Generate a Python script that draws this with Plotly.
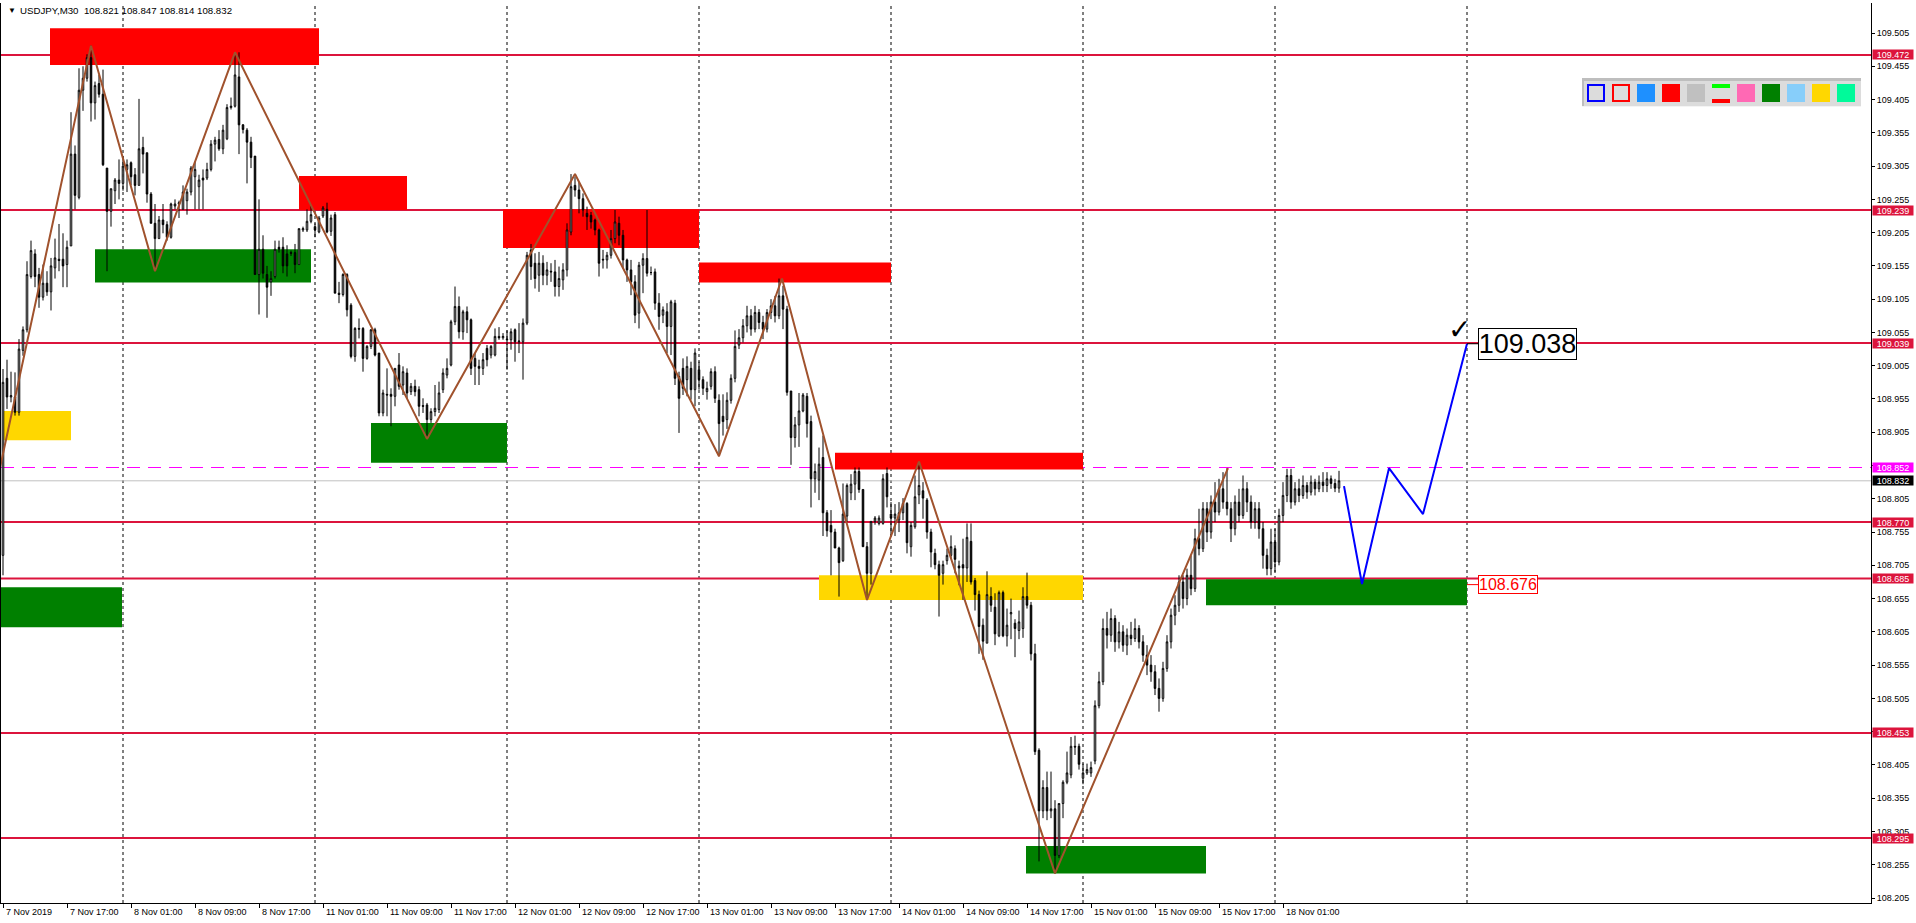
import plotly.graph_objects as go

# ---------------- data (USDJPY M30, O/H/L/C per bar) ----------------
nov07 = [
    (108.720, 109.000, 108.690, 108.980), (108.986, 109.014, 108.940, 108.958), (108.958, 108.996, 108.950, 108.960),
    (108.958, 108.995, 108.930, 108.935), (108.935, 109.045, 108.930, 109.030), (109.028, 109.064, 109.020, 109.059),
    (109.059, 109.162, 109.055, 109.142), (109.139, 109.193, 109.136, 109.178), (109.173, 109.180, 109.123, 109.139),
    (109.142, 109.152, 109.092, 109.108), (109.108, 109.157, 109.103, 109.129), (109.129, 109.147, 109.110, 109.116),
    (109.116, 109.167, 109.088, 109.155), (109.152, 109.196, 109.136, 109.167), (109.165, 109.218, 109.147, 109.163),
    (109.165, 109.204, 109.123, 109.155), (109.157, 109.193, 109.123, 109.183), (109.185, 109.386, 109.185, 109.323),
    (109.323, 109.336, 109.240, 109.261), (109.258, 109.452, 109.255, 109.419), (109.419, 109.455, 109.388, 109.437),
    (109.437, 109.473, 109.432, 109.468), (109.468, 109.486, 109.372, 109.400), (109.400, 109.432, 109.375, 109.426),
    (109.429, 109.442, 109.408, 109.413), (109.413, 109.450, 109.305, 109.307), (109.302, 109.302, 109.147, 109.237),
    (109.237, 109.271, 109.214, 109.271), (109.268, 109.287, 109.248, 109.284), (109.284, 109.315, 109.255, 109.279),
]
nov08 = [
    (109.279, 109.320, 109.268, 109.305), (109.300, 109.315, 109.266, 109.307), (109.310, 109.312, 109.276, 109.289),
    (109.292, 109.302, 109.261, 109.276), (109.276, 109.406, 109.276, 109.331), (109.333, 109.349, 109.294, 109.323),
    (109.325, 109.325, 109.250, 109.263), (109.263, 109.266, 109.219, 109.219), (109.219, 109.248, 109.147, 109.196),
    (109.196, 109.230, 109.196, 109.224), (109.224, 109.248, 109.204, 109.217), (109.217, 109.222, 109.193, 109.198),
    (109.198, 109.250, 109.196, 109.248), (109.245, 109.255, 109.240, 109.248), (109.248, 109.253, 109.227, 109.250),
    (109.240, 109.276, 109.240, 109.266), (109.253, 109.271, 109.232, 109.266), (109.266, 109.305, 109.261, 109.302),
    (109.289, 109.312, 109.240, 109.300), (109.274, 109.292, 109.240, 109.284), (109.287, 109.300, 109.240, 109.284),
    (109.287, 109.310, 109.284, 109.300), (109.300, 109.344, 109.297, 109.338), (109.338, 109.349, 109.312, 109.344),
    (109.345, 109.359, 109.328, 109.331), (109.331, 109.367, 109.323, 109.359), (109.346, 109.398, 109.344, 109.393),
    (109.393, 109.408, 109.390, 109.395), (109.395, 109.476, 109.393, 109.442), (109.439, 109.476, 109.323, 109.367),
    (109.367, 109.368, 109.354, 109.360), (109.359, 109.362, 109.279, 109.341), (109.341, 109.349, 109.302, 109.318),
    (109.320, 109.320, 109.142, 109.142), (109.142, 109.255, 109.082, 109.180), (109.180, 109.201, 109.136, 109.144),
    (109.142, 109.155, 109.077, 109.123), (109.131, 109.147, 109.110, 109.136), (109.139, 109.193, 109.136, 109.180),
    (109.183, 109.193, 109.175, 109.180), (109.183, 109.198, 109.144, 109.155), (109.173, 109.186, 109.139, 109.155),
    (109.175, 109.178, 109.170, 109.174), (109.175, 109.188, 109.144, 109.157), (109.157, 109.211, 109.157, 109.211),
    (109.209, 109.214, 109.206, 109.211), (109.209, 109.240, 109.206, 109.222), (109.222, 109.245, 109.219, 109.232),
]
nov11 = [
    (109.214, 109.219, 109.198, 109.209), (109.206, 109.230, 109.204, 109.227), (109.230, 109.245, 109.227, 109.242),
    (109.240, 109.250, 109.204, 109.206), (109.207, 109.232, 109.200, 109.227), (109.232, 109.236, 109.114, 109.114),
    (109.114, 109.131, 109.099, 109.112), (109.112, 109.144, 109.109, 109.142), (109.142, 109.144, 109.079, 109.089),
    (109.096, 109.099, 109.016, 109.019), (109.019, 109.063, 109.011, 109.061), (109.061, 109.076, 109.046, 109.060),
    (109.061, 109.063, 108.996, 109.016), (109.016, 109.036, 109.014, 109.034), (109.034, 109.060, 109.030, 109.059),
    (109.059, 109.062, 109.019, 109.021), (109.024, 109.024, 108.929, 108.934), (108.934, 108.969, 108.929, 108.964),
    (108.962, 109.001, 108.929, 108.961), (108.962, 108.971, 108.914, 108.959), (108.959, 109.001, 108.944, 109.001),
    (109.006, 109.024, 108.969, 108.974), (108.976, 109.004, 108.961, 108.996), (108.994, 109.001, 108.955, 108.964),
    (108.966, 108.979, 108.961, 108.974), (108.974, 108.984, 108.959, 108.966), (108.969, 108.974, 108.929, 108.944),
    (108.945, 108.956, 108.934, 108.944), (108.946, 108.949, 108.895, 108.924), (108.924, 108.941, 108.919, 108.936),
    (108.936, 108.976, 108.929, 108.941), (108.939, 108.981, 108.934, 108.964), (108.969, 109.001, 108.964, 108.994),
    (108.991, 109.016, 108.986, 109.001), (109.006, 109.074, 109.004, 109.071), (109.071, 109.124, 109.066, 109.094),
    (109.094, 109.109, 109.046, 109.056), (109.056, 109.089, 109.044, 109.086), (109.086, 109.094, 109.054, 109.074),
    (109.074, 109.076, 108.991, 109.001), (109.016, 109.024, 108.976, 109.004), (109.004, 109.014, 108.976, 109.001),
    (109.001, 109.024, 108.991, 109.014), (109.031, 109.036, 109.004, 109.014), (109.021, 109.036, 109.016, 109.034),
    (109.021, 109.061, 109.019, 109.049), (109.049, 109.063, 109.044, 109.047), (109.047, 109.054, 109.044, 109.049),
]
nov12 = [
    (109.045, 109.058, 108.999, 109.044), (109.044, 109.061, 109.029, 109.056), (109.059, 109.061, 109.011, 109.041),
    (109.041, 109.069, 109.024, 109.042), (109.041, 109.076, 108.984, 109.069), (109.069, 109.176, 109.066, 109.171),
    (109.179, 109.188, 109.134, 109.154), (109.159, 109.174, 109.121, 109.136), (109.141, 109.176, 109.116, 109.159),
    (109.159, 109.171, 109.126, 109.141), (109.141, 109.161, 109.126, 109.149), (109.147, 109.159, 109.131, 109.146),
    (109.146, 109.164, 109.109, 109.124), (109.124, 109.154, 109.109, 109.136), (109.134, 109.159, 109.119, 109.149),
    (109.149, 109.219, 109.139, 109.209), (109.206, 109.293, 109.201, 109.274), (109.276, 109.289, 109.259, 109.269),
    (109.269, 109.281, 109.234, 109.256), (109.256, 109.264, 109.229, 109.239), (109.234, 109.244, 109.209, 109.229),
    (109.231, 109.236, 109.211, 109.221), (109.224, 109.226, 109.201, 109.209), (109.209, 109.211, 109.139, 109.159),
    (109.165, 109.179, 109.151, 109.164), (109.164, 109.176, 109.151, 109.171), (109.171, 109.209, 109.166, 109.196),
    (109.196, 109.239, 109.189, 109.221), (109.219, 109.229, 109.186, 109.201), (109.201, 109.209, 109.151, 109.164),
    (109.164, 109.166, 109.131, 109.149), (109.149, 109.164, 109.111, 109.131), (109.131, 109.141, 109.069, 109.081),
    (109.084, 109.161, 109.061, 109.156), (109.156, 109.174, 109.114, 109.166), (109.166, 109.239, 109.139, 109.144),
    (109.145, 109.154, 109.141, 109.145), (109.146, 109.151, 109.089, 109.099), (109.099, 109.114, 109.059, 109.079),
    (109.081, 109.094, 109.069, 109.089), (109.086, 109.099, 109.024, 109.064), (109.064, 109.104, 109.021, 109.101),
    (109.099, 109.104, 108.976, 108.986), (108.989, 108.996, 108.904, 108.956), (109.001, 109.016, 108.961, 108.971),
    (108.984, 109.019, 108.959, 109.004), (109.001, 109.011, 108.954, 108.969), (108.969, 109.031, 108.944, 109.024),
]
nov13 = [
    (108.999, 109.011, 108.969, 108.984), (108.984, 108.989, 108.961, 108.971), (108.966, 108.981, 108.954, 108.971),
    (108.974, 109.001, 108.969, 108.996), (108.996, 109.004, 108.949, 108.956), (108.953, 108.962, 108.869, 108.918),
    (108.929, 108.962, 108.900, 108.921), (108.924, 108.965, 108.910, 108.953), (108.953, 108.992, 108.948, 108.986),
    (108.986, 109.058, 108.980, 109.034), (109.036, 109.060, 109.030, 109.047), (109.047, 109.075, 109.040, 109.065),
    (109.065, 109.095, 109.055, 109.080), (109.080, 109.090, 109.050, 109.060), (109.060, 109.095, 109.055, 109.085),
    (109.085, 109.090, 109.060, 109.070), (109.070, 109.080, 109.045, 109.060), (109.060, 109.090, 109.055, 109.085),
    (109.085, 109.105, 109.075, 109.095), (109.095, 109.110, 109.070, 109.080), (109.080, 109.136, 109.075, 109.110),
    (109.110, 109.125, 109.060, 109.090), (109.090, 109.095, 108.960, 108.965), (108.967, 108.967, 108.856, 108.897),
    (108.897, 108.928, 108.882, 108.916), (108.916, 108.964, 108.883, 108.937), (108.937, 108.964, 108.935, 108.961),
    (108.959, 108.964, 108.897, 108.918), (108.921, 108.930, 108.792, 108.835), (108.835, 108.858, 108.814, 108.846),
    (108.833, 108.882, 108.803, 108.857), (108.867, 108.900, 108.749, 108.784), (108.784, 108.788, 108.748, 108.757),
    (108.765, 108.788, 108.690, 108.755), (108.755, 108.760, 108.731, 108.731), (108.731, 108.733, 108.658, 108.709),
    (108.712, 108.828, 108.710, 108.782), (108.779, 108.828, 108.770, 108.825), (108.814, 108.842, 108.803, 108.827),
    (108.827, 108.852, 108.803, 108.846), (108.846, 108.852, 108.814, 108.819), (108.819, 108.819, 108.733, 108.733),
    (108.733, 108.740, 108.653, 108.693), (108.693, 108.771, 108.676, 108.771), (108.771, 108.779, 108.766, 108.776),
    (108.768, 108.780, 108.765, 108.776), (108.768, 108.842, 108.766, 108.835), (108.843, 108.852, 108.792, 108.808),
]
nov14 = [
    (108.782, 108.800, 108.749, 108.776), (108.776, 108.797, 108.749, 108.782), (108.773, 108.800, 108.755, 108.784),
    (108.784, 108.806, 108.773, 108.798), (108.798, 108.800, 108.723, 108.739), (108.733, 108.770, 108.718, 108.765),
    (108.763, 108.840, 108.760, 108.808), (108.811, 108.860, 108.797, 108.825), (108.817, 108.830, 108.775, 108.806),
    (108.803, 108.806, 108.745, 108.755), (108.755, 108.760, 108.702, 108.725), (108.723, 108.730, 108.699, 108.706),
    (108.706, 108.712, 108.628, 108.690), (108.693, 108.712, 108.676, 108.706), (108.712, 108.730, 108.706, 108.720),
    (108.720, 108.750, 108.715, 108.733), (108.730, 108.735, 108.693, 108.714), (108.704, 108.712, 108.675, 108.701),
    (108.706, 108.745, 108.653, 108.701), (108.701, 108.768, 108.680, 108.747), (108.741, 108.768, 108.676, 108.680),
    (108.682, 108.686, 108.637, 108.661), (108.661, 108.667, 108.572, 108.613), (108.615, 108.625, 108.563, 108.591),
    (108.588, 108.696, 108.588, 108.661), (108.658, 108.672, 108.635, 108.645), (108.642, 108.663, 108.585, 108.602),
    (108.599, 108.667, 108.597, 108.664), (108.664, 108.667, 108.597, 108.599), (108.599, 108.640, 108.583, 108.615),
    (108.632, 108.655, 108.594, 108.634), (108.618, 108.624, 108.567, 108.610), (108.607, 108.637, 108.594, 108.620),
    (108.610, 108.672, 108.596, 108.658), (108.658, 108.694, 108.640, 108.645), (108.645, 108.650, 108.562, 108.572),
    (108.572, 108.587, 108.420, 108.425), (108.427, 108.430, 108.260, 108.336), (108.336, 108.382, 108.325, 108.371),
    (108.371, 108.395, 108.322, 108.336), (108.336, 108.395, 108.325, 108.339), (108.339, 108.352, 108.242, 108.269),
    (108.269, 108.347, 108.265, 108.347), (108.347, 108.382, 108.325, 108.379), (108.379, 108.425, 108.376, 108.393),
    (108.390, 108.447, 108.385, 108.433), (108.433, 108.449, 108.420, 108.432), (108.433, 108.437, 108.398, 108.406),
]
nov15 = [
    (108.385, 108.407, 108.376, 108.393), (108.393, 108.407, 108.390, 108.398), (108.393, 108.410, 108.387, 108.401),
    (108.411, 108.502, 108.406, 108.494), (108.494, 108.545, 108.490, 108.530), (108.530, 108.625, 108.525, 108.610),
    (108.610, 108.635, 108.580, 108.600), (108.600, 108.640, 108.590, 108.625), (108.625, 108.630, 108.575, 108.590),
    (108.590, 108.620, 108.580, 108.605), (108.605, 108.615, 108.575, 108.585), (108.585, 108.610, 108.570, 108.600),
    (108.600, 108.620, 108.585, 108.595), (108.595, 108.625, 108.590, 108.610), (108.610, 108.615, 108.580, 108.590),
    (108.590, 108.600, 108.560, 108.570), (108.570, 108.585, 108.540, 108.555), (108.555, 108.570, 108.530, 108.545),
    (108.545, 108.555, 108.510, 108.520), (108.520, 108.535, 108.485, 108.505), (108.505, 108.560, 108.500, 108.550),
    (108.550, 108.600, 108.545, 108.590), (108.590, 108.640, 108.580, 108.630), (108.630, 108.660, 108.615, 108.645),
    (108.645, 108.690, 108.635, 108.680), (108.680, 108.690, 108.640, 108.655), (108.655, 108.700, 108.645, 108.690),
    (108.690, 108.720, 108.660, 108.670), (108.670, 108.760, 108.665, 108.745), (108.745, 108.790, 108.720, 108.730),
    (108.730, 108.800, 108.725, 108.790), (108.790, 108.800, 108.740, 108.755), (108.755, 108.810, 108.745, 108.800),
    (108.800, 108.830, 108.770, 108.785), (108.785, 108.835, 108.780, 108.820), (108.820, 108.845, 108.790, 108.800),
    (108.800, 108.851, 108.780, 108.790), (108.790, 108.800, 108.740, 108.760), (108.760, 108.810, 108.750, 108.800),
    (108.800, 108.820, 108.770, 108.780), (108.780, 108.840, 108.775, 108.820), (108.820, 108.830, 108.785, 108.800),
    (108.800, 108.810, 108.760, 108.770), (108.770, 108.800, 108.760, 108.790), (108.790, 108.800, 108.745, 108.760),
    (108.760, 108.770, 108.700, 108.720), (108.720, 108.730, 108.690, 108.700), (108.700, 108.760, 108.690, 108.740),
]
nov18 = [
    (108.740, 108.760, 108.695, 108.710), (108.710, 108.790, 108.705, 108.780), (108.780, 108.830, 108.770, 108.810),
    (108.810, 108.850, 108.800, 108.840), (108.840, 108.850, 108.790, 108.800), (108.800, 108.830, 108.795, 108.820),
    (108.820, 108.835, 108.800, 108.810), (108.810, 108.840, 108.805, 108.825), (108.825, 108.830, 108.805, 108.815),
    (108.815, 108.840, 108.810, 108.830), (108.830, 108.835, 108.810, 108.820), (108.820, 108.840, 108.815, 108.830),
    (108.830, 108.845, 108.815, 108.825), (108.825, 108.845, 108.815, 108.835), (108.835, 108.840, 108.820, 108.828),
    (108.828, 108.835, 108.815, 108.821), (108.821, 108.847, 108.814, 108.832),
]

level_prices = [109.472, 109.239, 109.039, 108.770, 108.685, 108.453, 108.295]
pending_price = 108.852
bid_price = 108.832

date_tick_bars = [0, 16, 32, 48, 64, 80, 96, 112, 128, 144, 160, 176, 192, 208, 224, 240, 256, 272, 288, 304, 320]
date_tick_labels = ["7 Nov 2019", "7 Nov 17:00", "8 Nov 01:00", "8 Nov 09:00", "8 Nov 17:00", "11 Nov 01:00",
                    "11 Nov 09:00", "11 Nov 17:00", "12 Nov 01:00", "12 Nov 09:00", "12 Nov 17:00", "13 Nov 01:00",
                    "13 Nov 09:00", "13 Nov 17:00", "14 Nov 01:00", "14 Nov 09:00", "14 Nov 17:00", "15 Nov 01:00",
                    "15 Nov 09:00", "15 Nov 17:00", "18 Nov 01:00"]
separator_bars = [30, 78, 126, 174, 222, 270, 318, 366]
price_ticks = [108.205, 108.255, 108.305, 108.355, 108.405, 108.455, 108.505, 108.555, 108.605, 108.655,
               108.705, 108.755, 108.805, 108.855, 108.905, 108.955, 109.005, 109.055, 109.105, 109.155,
               109.205, 109.255, 109.305, 109.355, 109.405, 109.455, 109.505]

# zones: (bar_from, bar_to, price_low, price_high, colour)
zones = [
    (11.75, 79.0, 109.457, 109.512, "#FF0000"),
    (74.0, 101.0, 109.239, 109.290, "#FF0000"),
    (23.0, 77.0, 109.130, 109.180, "#008000"),
    (0.0, 17.0, 108.893, 108.937, "#FFD700"),
    (-0.5, 29.75, 108.612, 108.672, "#008000"),
    (92.0, 126.0, 108.859, 108.919, "#008000"),
    (125.0, 174.0, 109.182, 109.240, "#FF0000"),
    (174.0, 222.0, 109.130, 109.160, "#FF0000"),
    (208.0, 270.0, 108.849, 108.874, "#FF0000"),
    (204.0, 270.0, 108.653, 108.690, "#FFD700"),
    (255.75, 300.75, 108.242, 108.283, "#008000"),
    (300.75, 366.0, 108.645, 108.684, "#008000"),
]

zigzag_bars = [-1.0, 22, 38, 58, 106, 143, 179, 194.75, 216, 229, 263, 306.25]
zigzag_prices = [108.845, 109.486, 109.147, 109.476, 108.895, 109.293, 108.869, 109.136, 108.653, 108.861, 108.242, 108.851]

forecast_bars = [335.25, 339.75, 346.5, 355.0, 366.0]
forecast_prices = [108.824, 108.677, 108.851, 108.782, 109.038]

target_label = "109.038"
stop_label = "108.676"

# ---------------- figure ----------------
candles = nov07 + nov08 + nov11 + nov12 + nov13 + nov14 + nov15 + nov18
bars = list(range(len(candles)))
opens = [c[0] for c in candles]
highs = [c[1] for c in candles]
lows = [c[2] for c in candles]
closes = [c[3] for c in candles]

W, H = 1916, 923
ML, MR, MT, MB = 1, 45, 3, 20
PW, PH = W - ML - MR, H - MT - MB
FONT = "Liberation Sans, Arial, sans-serif"


def px_x(px):
    return (px - ML) / PW


def px_y(py):
    return 1 - (py - MT) / PH


fig = go.Figure()

shapes = []
for b0, b1, p0, p1, col in zones:
    shapes.append(dict(type="rect", xref="x", yref="y", x0=b0, x1=b1, y0=p0, y1=p1,
                       fillcolor=col, line=dict(width=0), layer="below"))
for b in separator_bars:
    shapes.append(dict(type="line", xref="x", yref="paper", x0=b, x1=b, y0=0, y1=1,
                       line=dict(color="black", width=1, dash="3px,3px"), layer="below"))
shapes.append(dict(type="line", xref="paper", yref="y", x0=0, x1=1, y0=bid_price, y1=bid_price,
                   line=dict(color="#C0C0C0", width=1), layer="below"))
shapes.append(dict(type="line", xref="paper", yref="y", x0=0, x1=1, y0=pending_price, y1=pending_price,
                   line=dict(color="#FF00FF", width=1, dash="13px,8px"), layer="below"))
for p in level_prices:
    shapes.append(dict(type="line", xref="paper", yref="y", x0=0, x1=1, y0=p, y1=p,
                       line=dict(color="#DC143C", width=2), layer="below"))

# connector lines for the text labels
shapes.append(dict(type="line", xref="x", yref="y", x0=forecast_bars[-1], x1=368.75,
                   y0=forecast_prices[-1], y1=forecast_prices[-1], line=dict(color="black", width=1)))
shapes.append(dict(type="line", xref="x", yref="y", x0=366.0, x1=368.75,
                   y0=float(stop_label), y1=float(stop_label), line=dict(color="#FF0000", width=1)))

# colour palette panel (top right)
shapes.append(dict(type="rect", xref="paper", yref="paper", x0=px_x(1582), x1=px_x(1861), y0=px_y(107), y1=px_y(78),
                   fillcolor="#F4F4F4", line=dict(width=0), layer="above"))
shapes.append(dict(type="rect", xref="paper", yref="paper", x0=px_x(1582), x1=px_x(1861), y0=px_y(106), y1=px_y(78),
                   fillcolor="#BEBEBE", line=dict(width=0), layer="above"))
shapes.append(dict(type="rect", xref="paper", yref="paper", x0=px_x(1584), x1=px_x(1861), y0=px_y(106), y1=px_y(81),
                   fillcolor="#DCDCDC", line=dict(width=0), layer="above"))
palette = ["outline:#0000FF", "outline:#FF0000", "#1E90FF", "#FF0000", "#C0C0C0", "lines",
           "#FF69B4", "#008000", "#87CEFA", "#FFD700", "#00FA9A"]
for i, item in enumerate(palette):
    x0 = 1587 + 25 * i
    x1 = x0 + 18
    if item.startswith("outline:"):
        shapes.append(dict(type="rect", xref="paper", yref="paper", x0=px_x(x0 + 1), x1=px_x(x1 - 1),
                           y0=px_y(101), y1=px_y(85), fillcolor="#DCDCDC",
                           line=dict(color=item.split(":")[1], width=2), layer="above"))
    elif item == "lines":
        shapes.append(dict(type="rect", xref="paper", yref="paper", x0=px_x(x0), x1=px_x(x1),
                           y0=px_y(88), y1=px_y(84), fillcolor="#00FF00", line=dict(width=0), layer="above"))
        shapes.append(dict(type="rect", xref="paper", yref="paper", x0=px_x(x0), x1=px_x(x1),
                           y0=px_y(103), y1=px_y(99), fillcolor="#FF0000", line=dict(width=0), layer="above"))
    else:
        shapes.append(dict(type="rect", xref="paper", yref="paper", x0=px_x(x0), x1=px_x(x1),
                           y0=px_y(102), y1=px_y(84), fillcolor=item, line=dict(width=0), layer="above"))

fig.add_trace(go.Candlestick(
    x=bars, open=opens, high=highs, low=lows, close=closes,
    increasing=dict(line=dict(color="black", width=1), fillcolor="white"),
    decreasing=dict(line=dict(color="black", width=1), fillcolor="black"),
    whiskerwidth=0, showlegend=False, hoverinfo="skip"))

fig.add_trace(go.Scatter(x=zigzag_bars, y=zigzag_prices, mode="lines",
                         line=dict(color="#A0522D", width=2), showlegend=False, hoverinfo="skip"))
fig.add_trace(go.Scatter(x=forecast_bars, y=forecast_prices, mode="lines",
                         line=dict(color="#0000FF", width=2), showlegend=False, hoverinfo="skip"))

annotations = []
# title
annotations.append(dict(xref="paper", yref="paper", x=px_x(6), y=px_y(10.5), xanchor="left", yanchor="middle",
                        text="▼", showarrow=False, font=dict(family=FONT, size=8, color="black")))
annotations.append(dict(xref="paper", yref="paper", x=px_x(18), y=px_y(10.5), xanchor="left", yanchor="middle",
                        text="USDJPY,M30  %.3f %.3f %.3f %.3f" % (opens[-1], highs[-1], lows[-1], closes[-1]),
                        showarrow=False, font=dict(family=FONT, size=9.7, color="black")))
# date labels (left aligned like MT4)
for b, lab in zip(date_tick_bars, date_tick_labels):
    annotations.append(dict(xref="x", yref="paper", x=b, y=px_y(912), xanchor="left", yanchor="middle",
                            xshift=1, text=lab, showarrow=False, font=dict(family=FONT, size=9, color="black")))
# price labels on the right scale
for p in level_prices:
    annotations.append(dict(xref="paper", yref="y", x=1, xshift=1, y=p, xanchor="left", yanchor="middle",
                            text="%.3f" % p, showarrow=False, bgcolor="#DC143C", width=40, height=9,
                            borderpad=0, font=dict(family=FONT, size=9, color="white")))
annotations.append(dict(xref="paper", yref="y", x=1, xshift=1, y=pending_price, xanchor="left", yanchor="middle",
                        text="%.3f" % pending_price, showarrow=False, bgcolor="#FF00FF", width=40, height=9,
                        borderpad=0, font=dict(family=FONT, size=9, color="white")))
annotations.append(dict(xref="paper", yref="y", x=1, xshift=1, y=bid_price, xanchor="left", yanchor="middle",
                        text="%.3f" % bid_price, showarrow=False, bgcolor="black", width=40, height=9,
                        borderpad=0, font=dict(family=FONT, size=9, color="white")))
# target / stop labels
annotations.append(dict(xref="x", yref="y", x=368.75, y=float(target_label), xanchor="left", yanchor="middle",
                        text=target_label, showarrow=False, bgcolor="white", bordercolor="black", borderwidth=1,
                        borderpad=0, width=97, height=30, font=dict(family=FONT, size=27, color="black")))
annotations.append(dict(xref="x", yref="y", x=368.75, y=float(stop_label), xanchor="left", yanchor="middle",
                        text=stop_label, showarrow=False, bgcolor="white", bordercolor="#FF0000", borderwidth=1,
                        borderpad=0, width=58, height=17, font=dict(family=FONT, size=16, color="#FF0000")))
annotations.append(dict(xref="x", yref="y", x=364, y=109.060, xanchor="center", yanchor="middle",
                        text="✓", showarrow=False, font=dict(family="DejaVu Sans", size=28, color="black")))

fig.update_layout(
    width=W, height=H, margin=dict(l=ML, r=MR, t=MT, b=MB),
    paper_bgcolor="white", plot_bgcolor="white",
    shapes=shapes, annotations=annotations, boxgap=0.45,
    hovermode=False,
    xaxis=dict(range=[-0.5, 467], showgrid=False, zeroline=False, rangeslider=dict(visible=False),
               showline=True, linecolor="black", linewidth=1, ticks="outside", ticklen=4, tickcolor="black",
               tickvals=date_tick_bars, showticklabels=False),
    yaxis=dict(range=[108.1975, 109.5501], side="right", showgrid=False, zeroline=False,
               showline=True, linecolor="black", linewidth=1, mirror=True,
               ticks="outside", ticklen=3, tickcolor="black",
               tickvals=price_ticks, ticktext=["%.3f" % v for v in price_ticks],
               tickfont=dict(family=FONT, size=9, color="black")),
)

fig.write_html("out.html", config={"displayModeBar": False},
               post_script="document.body.style.margin='0';document.body.style.overflow='hidden';")
